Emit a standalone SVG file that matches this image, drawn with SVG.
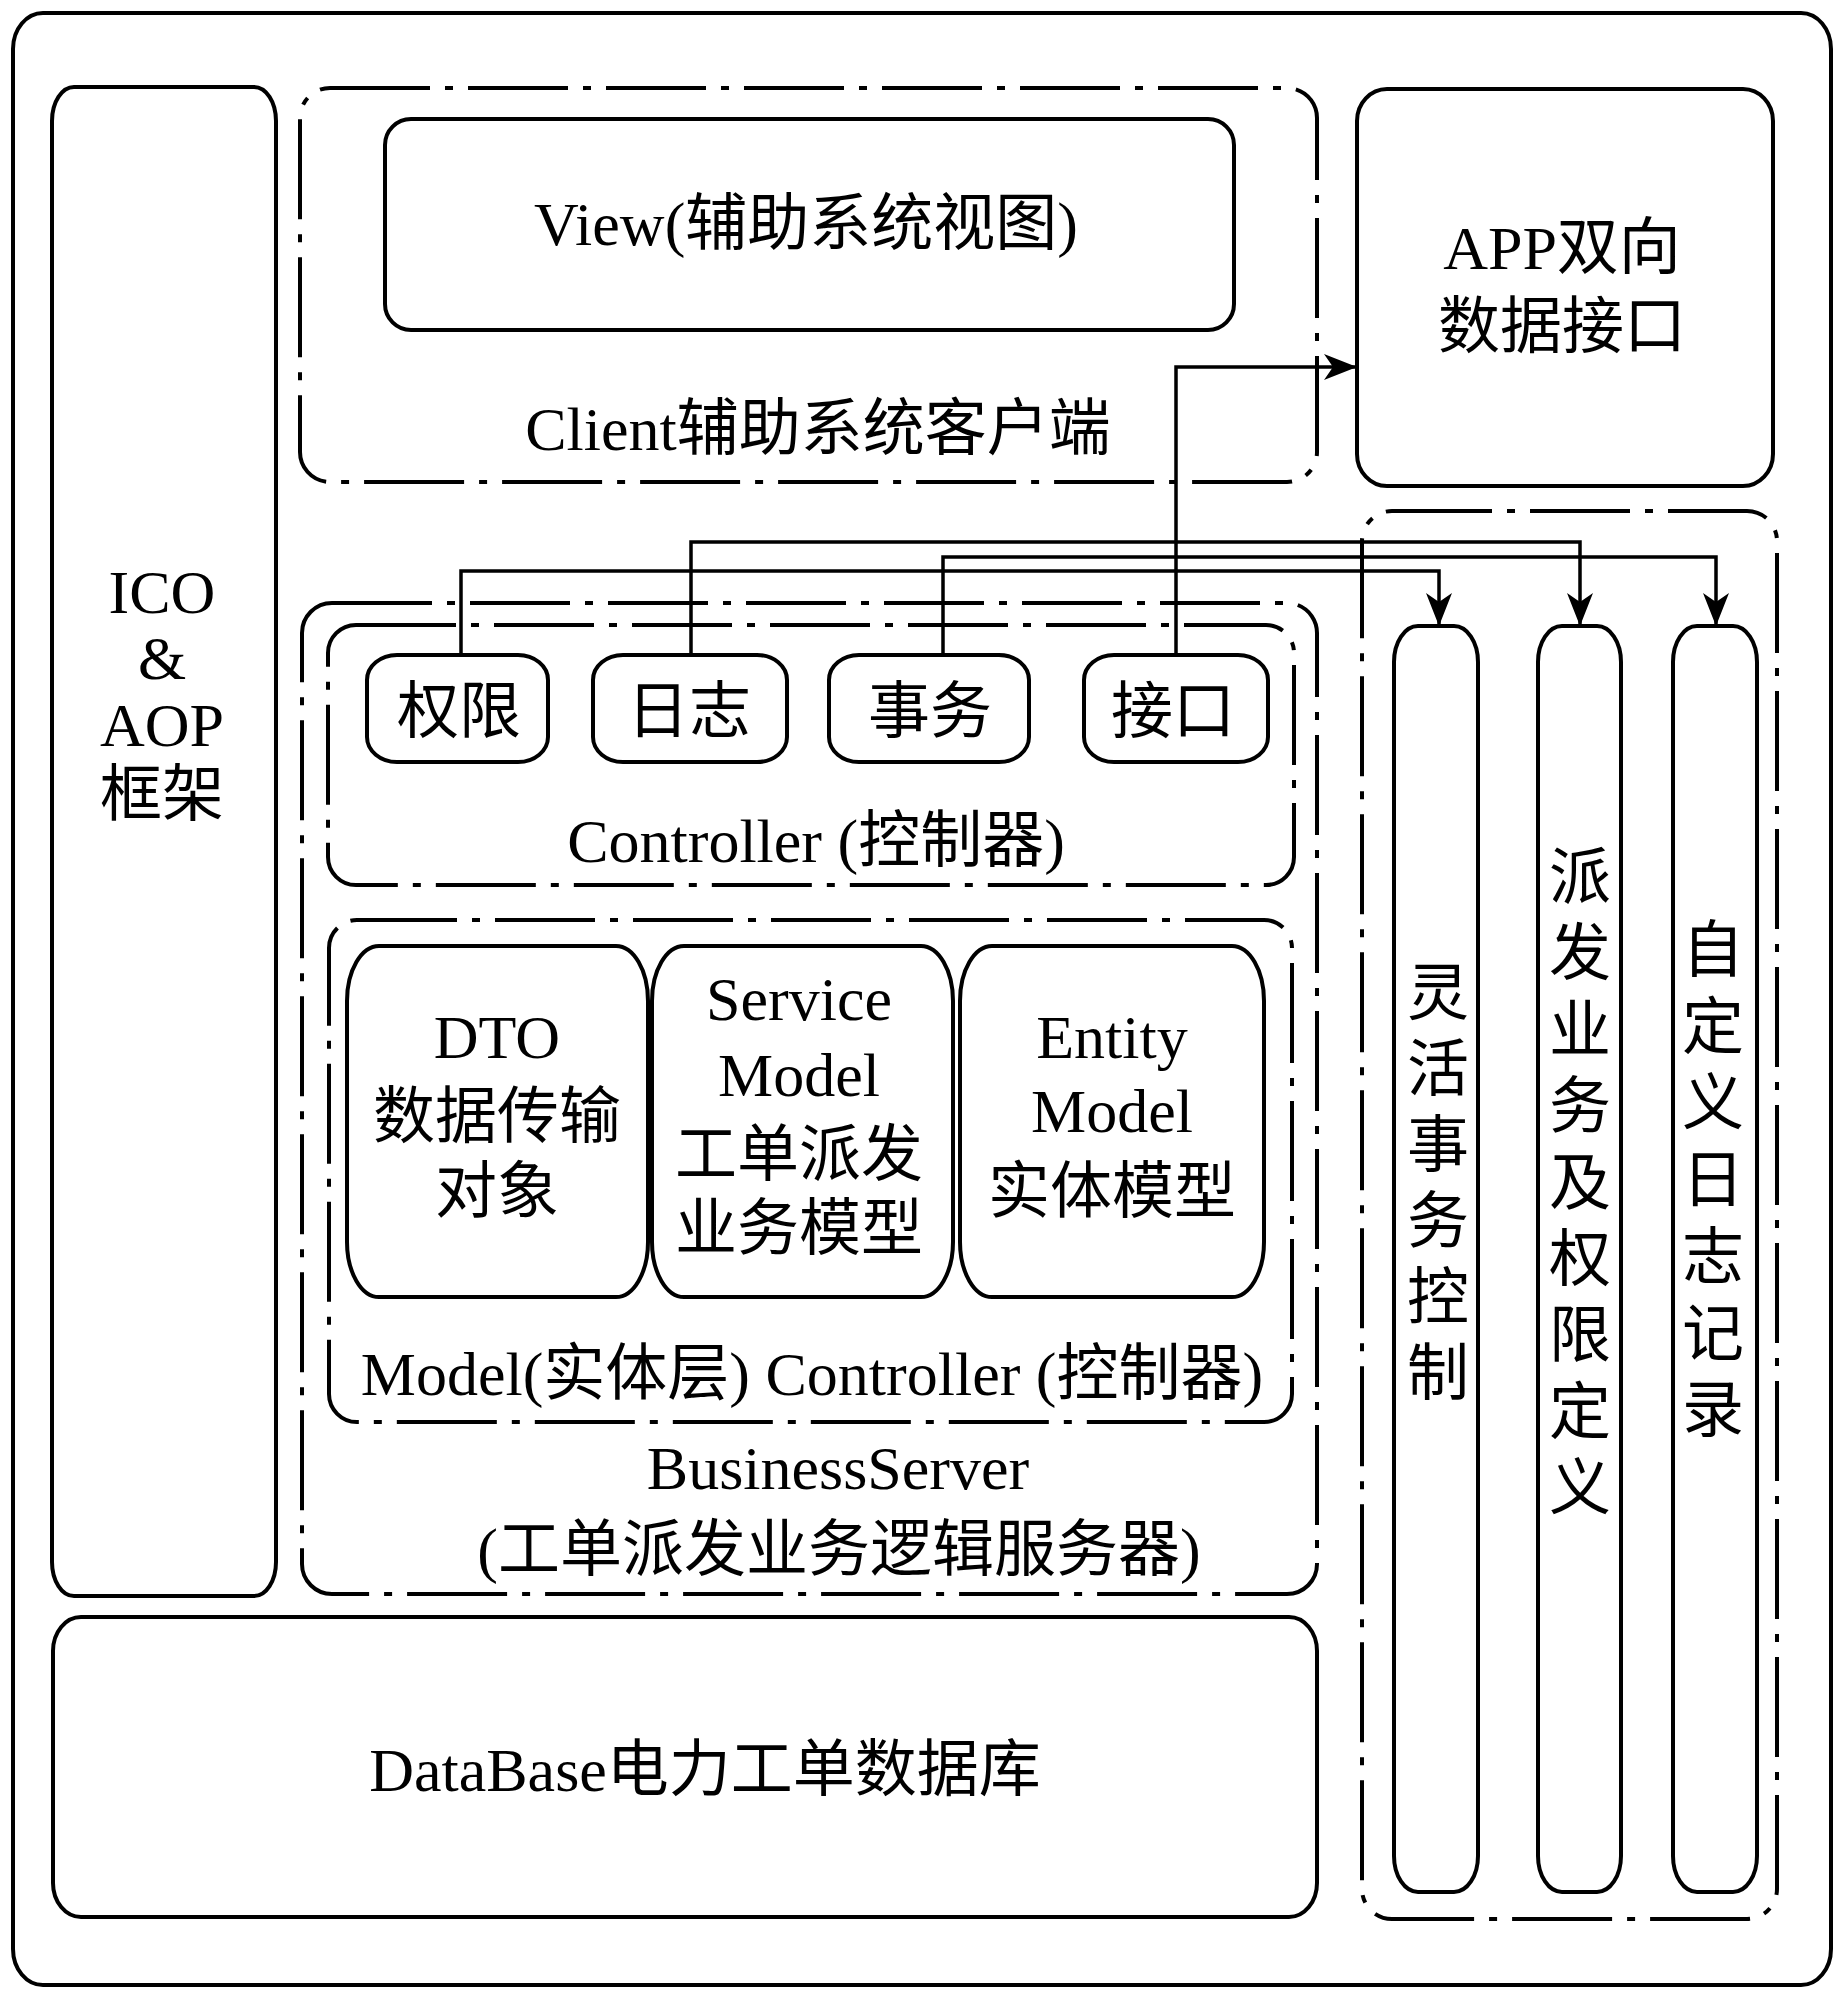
<svg xmlns="http://www.w3.org/2000/svg" width="1848" height="2001" viewBox="0 0 1848 2001">
<style>
.box{fill:none;stroke:#000;stroke-width:4}
.dd{fill:none;stroke:#000;stroke-width:4;stroke-dasharray:100 15 8 15}
.con{fill:none;stroke:#000;stroke-width:3.5}
text{font-family:"Liberation Serif","Noto Sans CJK SC",serif;font-size:62px;fill:#000;text-anchor:middle}
</style>
<defs>
<marker id="arr" markerUnits="userSpaceOnUse" markerWidth="34" markerHeight="26" refX="33" refY="13" orient="auto">
<path d="M0,0 L33,13 L0,26 L9,13 Z" fill="#000"/>
</marker>
</defs>
<rect width="1848" height="2001" fill="#fff"/>
<g id="frame"><rect class="box" x="13" y="13" width="1818" height="1972" rx="30" ry="36"/></g>
<g id="ico">
<rect class="box" x="52" y="87" width="224" height="1509" rx="22" ry="34"/>
<text x="162" y="613">ICO</text>
<text x="162" y="679">&amp;</text>
<text x="162" y="746">AOP</text>
<text x="162" y="816">框架</text>
</g>
<g id="client">
<rect class="dd" x="300" y="88" width="1017" height="394" rx="30" ry="30"/>
<text x="818" y="450">Client辅助系统客户端</text>
</g>
<g id="view">
<rect class="box" x="385" y="119" width="849" height="211" rx="26" ry="26"/>
<text x="806" y="245">View(辅助系统视图)</text>
</g>
<g id="app">
<rect class="box" x="1357" y="89" width="416" height="397" rx="30" ry="32"/>
<text x="1562" y="269">APP双向</text>
<text x="1562" y="348">数据接口</text>
</g>
<g id="business-server">
<rect class="dd" x="302" y="603" width="1015" height="991" rx="30" ry="30"/>
<text x="838" y="1489">BusinessServer</text>
<text x="839" y="1571">(工单派发业务逻辑服务器)</text>
</g>
<g id="controller">
<rect class="dd" x="328" y="625" width="966" height="260" rx="28" ry="28"/>
<text x="816" y="862">Controller (控制器)</text>
</g>
<g id="quanxian"><rect class="box" x="367" y="655" width="181" height="107" rx="30" ry="25"/><text x="459" y="733">权限</text></g>
<g id="rizhi"><rect class="box" x="593" y="655" width="194" height="107" rx="30" ry="25"/><text x="689" y="733">日志</text></g>
<g id="shiwu"><rect class="box" x="829" y="655" width="200" height="107" rx="30" ry="25"/><text x="930" y="733">事务</text></g>
<g id="jiekou"><rect class="box" x="1084" y="655" width="184" height="107" rx="30" ry="25"/><text x="1173" y="733">接口</text></g>
<g id="model">
<rect class="dd" x="329" y="920" width="963" height="502" rx="28" ry="28"/>
<text x="812" y="1395">Model(实体层) Controller (控制器)</text>
</g>
<g id="dto">
<rect class="box" x="347" y="946" width="301" height="351" rx="32" ry="55"/>
<text x="497" y="1058">DTO</text>
<text x="497" y="1138">数据传输</text>
<text x="497" y="1213">对象</text>
</g>
<g id="service">
<rect class="box" x="652" y="946" width="301" height="351" rx="32" ry="55"/>
<text x="799" y="1020">Service</text>
<text x="799" y="1096">Model</text>
<text x="799" y="1176">工单派发</text>
<text x="799" y="1250">业务模型</text>
</g>
<g id="entity">
<rect class="box" x="960" y="946" width="304" height="351" rx="32" ry="55"/>
<text x="1112" y="1058">Entity</text>
<text x="1112" y="1132">Model</text>
<text x="1112" y="1213">实体模型</text>
</g>
<g id="database">
<rect class="box" x="53" y="1617" width="1264" height="300" rx="28" ry="34"/>
<text x="705" y="1791">DataBase电力工单数据库</text>
</g>
<g id="aspects">
<rect class="dd" x="1362" y="511" width="415" height="1408" rx="30" ry="30"/>
</g>
<g id="flex-tx">
<rect class="box" x="1394" y="626" width="84" height="1266" rx="24" ry="36"/>
<text x="1438" y="1015"><tspan x="1438">灵</tspan><tspan x="1438" dy="76">活</tspan><tspan x="1438" dy="76">事</tspan><tspan x="1438" dy="76">务</tspan><tspan x="1438" dy="76">控</tspan><tspan x="1438" dy="76">制</tspan></text>
</g>
<g id="dispatch-auth">
<rect class="box" x="1538" y="626" width="83" height="1266" rx="24" ry="36"/>
<text x="1580" y="899"><tspan x="1580">派</tspan><tspan x="1580" dy="76.4">发</tspan><tspan x="1580" dy="76.4">业</tspan><tspan x="1580" dy="76.4">务</tspan><tspan x="1580" dy="76.4">及</tspan><tspan x="1580" dy="76.4">权</tspan><tspan x="1580" dy="76.4">限</tspan><tspan x="1580" dy="76.4">定</tspan><tspan x="1580" dy="76.4">义</tspan></text>
</g>
<g id="custom-log">
<rect class="box" x="1673" y="626" width="84" height="1266" rx="24" ry="36"/>
<text x="1713" y="972"><tspan x="1713">自</tspan><tspan x="1713" dy="76.7">定</tspan><tspan x="1713" dy="76.7">义</tspan><tspan x="1713" dy="76.7">日</tspan><tspan x="1713" dy="76.7">志</tspan><tspan x="1713" dy="76.7">记</tspan><tspan x="1713" dy="76.7">录</tspan></text>
</g>
<g id="connectors">
<path class="con" d="M461 655 V571 H1439 V626" marker-end="url(#arr)"/>
<path class="con" d="M691 655 V542 H1580 V626" marker-end="url(#arr)"/>
<path class="con" d="M943 655 V557 H1716 V626" marker-end="url(#arr)"/>
<path class="con" d="M1176 655 V367 H1357" marker-end="url(#arr)"/>
</g>
</svg>
